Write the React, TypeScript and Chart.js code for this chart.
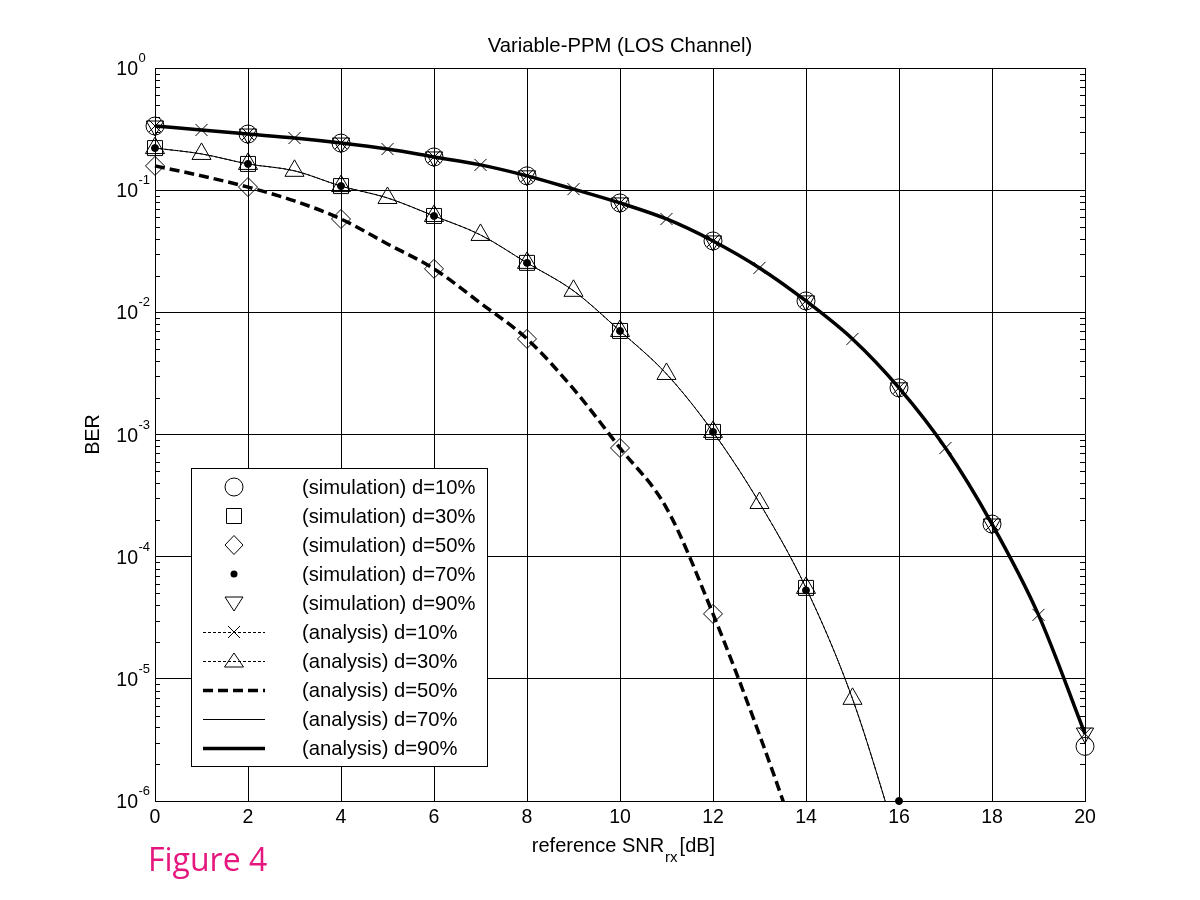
import React, { useEffect, useRef } from 'react';
import { Chart, registerables } from 'chart.js';

Chart.register(...registerables);

// ---------- data ----------
const snrAll = [0, 1, 2, 3, 4, 5, 6, 7, 8, 9, 10, 11, 12, 13, 14, 15, 16, 17, 18, 19, 20];
const snrEven = [0, 2, 4, 6, 8, 10, 12, 14, 16, 18, 20];
const snrTo16 = [0, 1, 2, 3, 4, 5, 6, 7, 8, 9, 10, 11, 12, 13, 14, 15, 16];
const snrTo14 = [0, 1, 2, 3, 4, 5, 6, 7, 8, 9, 10, 11, 12, 13, 14];

const simD10 = [0.335, 0.288, 0.243, 0.187, 0.131, 0.0786, 0.0384, 0.0124, 0.00241, 1.85e-4, 2.8e-6];
const simD30 = [0.221, 0.164, 0.108, 0.0615, 0.0254, 0.00704, 0.00105, 5.55e-5];
const simD50 = [0.158, 0.106, 0.0581, 0.0227, 0.00606, 7.76e-4, 3.4e-5];
const simD70 = [0.221, 0.164, 0.108, 0.0615, 0.0254, 0.00704, 0.00105, 5.3e-5, 1.0e-6];
const simD90 = [0.335, 0.288, 0.243, 0.187, 0.131, 0.0786, 0.0384, 0.0124, 0.00241, 1.85e-4, 3.6e-6];

const anaD10 = [0.335, 0.311, 0.288, 0.267, 0.243, 0.217, 0.187, 0.161, 0.131, 0.102, 0.0786, 0.0581, 0.0384, 0.0231, 0.0124, 0.00606, 0.00241, 7.76e-4, 1.85e-4, 3.34e-5, 3.55e-6];
const anaD30 = [0.221, 0.198, 0.164, 0.144, 0.108, 0.0863, 0.0615, 0.043, 0.0254, 0.015, 0.00704, 0.00313, 0.00105, 2.75e-4, 5.55e-5, 6.86e-6, 4.3e-7];
const anaD50 = [0.158, 0.131, 0.106, 0.0816, 0.0581, 0.0363, 0.0227, 0.0119, 0.00606, 0.00236, 7.76e-4, 2.5e-4, 3.4e-5, 3.48e-6, 2.9e-7];
const anaD70 = [0.221, 0.198, 0.164, 0.144, 0.108, 0.0863, 0.0615, 0.043, 0.0254, 0.015, 0.00704, 0.00313, 0.00105, 2.75e-4, 5.55e-5, 6.86e-6, 4.3e-7];
const anaD90 = [0.335, 0.311, 0.288, 0.267, 0.243, 0.217, 0.187, 0.161, 0.131, 0.102, 0.0786, 0.0581, 0.0384, 0.0231, 0.0124, 0.00606, 0.00241, 7.76e-4, 1.85e-4, 3.34e-5, 3.55e-6];

const berTickValues = [1e-6, 1e-5, 1e-4, 1e-3, 1e-2, 1e-1, 1];
const berTickExponents = ['-6', '-5', '-4', '-3', '-2', '-1', '0'];

const legendLabels = [
  '(simulation) d=10%',
  '(simulation) d=30%',
  '(simulation) d=50%',
  '(simulation) d=70%',
  '(simulation) d=90%',
  '(analysis) d=10%',
  '(analysis) d=30%',
  '(analysis) d=50%',
  '(analysis) d=70%',
  '(analysis) d=90%',
];

const titleText = 'Variable-PPM (LOS Channel)';
const yTitleText = 'BER';
const xTitleMain = 'reference SNR';
const xTitleSub = 'rx';
const xTitleTail = '[dB]';
const figureLabel = 'Figure 4';

const FONT = "'Liberation Sans', Arial, sans-serif";

const pts = (xs: number[], ys: number[]) => ys.map((y, i) => ({ x: xs[i], y }));

// ---------- legend marker helpers ----------
type MarkerKind = 'circle' | 'square' | 'diamond' | 'dot' | 'triDown' | 'cross' | 'triUp' | 'none';
type LineKind = 'none' | 'dotted' | 'dashed' | 'thin' | 'thick';
const legendMarkers: MarkerKind[] = ['circle', 'square', 'diamond', 'dot', 'triDown', 'cross', 'triUp', 'none', 'none', 'none'];
const legendLines: LineKind[] = ['none', 'none', 'none', 'none', 'none', 'dotted', 'dotted', 'dashed', 'thin', 'thick'];

function drawMarker(ctx: CanvasRenderingContext2D, kind: MarkerKind, cx: number, cy: number) {
  ctx.save();
  ctx.strokeStyle = '#000';
  ctx.fillStyle = '#000';
  ctx.lineWidth = 1;
  ctx.setLineDash([]);
  ctx.beginPath();
  switch (kind) {
    case 'circle':
      ctx.arc(cx, cy, 9, 0, Math.PI * 2);
      ctx.stroke();
      break;
    case 'square':
      ctx.rect(cx - 7.5, cy - 7.5, 15, 15);
      ctx.stroke();
      break;
    case 'diamond':
      ctx.moveTo(cx, cy - 9.5);
      ctx.lineTo(cx + 9, cy);
      ctx.lineTo(cx, cy + 9.5);
      ctx.lineTo(cx - 9, cy);
      ctx.closePath();
      ctx.stroke();
      break;
    case 'dot':
      ctx.arc(cx, cy, 3.5, 0, Math.PI * 2);
      ctx.fill();
      break;
    case 'triDown':
      ctx.moveTo(cx - 9, cy - 6);
      ctx.lineTo(cx + 9, cy - 6);
      ctx.lineTo(cx, cy + 8);
      ctx.closePath();
      ctx.stroke();
      break;
    case 'triUp':
      ctx.moveTo(cx - 9.5, cy + 6);
      ctx.lineTo(cx + 9.5, cy + 6);
      ctx.lineTo(cx, cy - 8);
      ctx.closePath();
      ctx.stroke();
      break;
    case 'cross':
      ctx.moveTo(cx - 6, cy - 6);
      ctx.lineTo(cx + 6, cy + 6);
      ctx.moveTo(cx + 6, cy - 6);
      ctx.lineTo(cx - 6, cy + 6);
      ctx.stroke();
      break;
    default:
      break;
  }
  ctx.restore();
}

function drawLegendLine(ctx: CanvasRenderingContext2D, kind: LineKind, x0: number, x1: number, y: number) {
  if (kind === 'none') return;
  ctx.save();
  ctx.strokeStyle = '#000';
  ctx.beginPath();
  if (kind === 'dotted') { ctx.lineWidth = 1; ctx.setLineDash([3, 2]); }
  if (kind === 'dashed') { ctx.lineWidth = 3.5; ctx.setLineDash([10, 5]); }
  if (kind === 'thin') { ctx.lineWidth = 1; }
  if (kind === 'thick') { ctx.lineWidth = 3.5; }
  ctx.moveTo(x0, y);
  ctx.lineTo(x1, y);
  ctx.stroke();
  ctx.restore();
}

const decorPlugin = {
  id: 'decor',
  afterDraw(chart: any) {
    const ctx: CanvasRenderingContext2D = chart.ctx;
    const a = chart.chartArea;
    const xs = chart.scales.x;
    const ys = chart.scales.y;
    ctx.save();

    // minor log ticks on left and right edges
    ctx.strokeStyle = '#000';
    ctx.lineWidth = 1;
    ctx.beginPath();
    for (let d = -6; d < 0; d++) {
      for (let k = 2; k <= 9; k++) {
        const py = Math.round(ys.getPixelForValue(k * Math.pow(10, d))) + 0.5;
        ctx.moveTo(a.left, py); ctx.lineTo(a.left + 5, py);
        ctx.moveTo(a.right - 5, py); ctx.lineTo(a.right, py);
      }
    }
    ctx.stroke();

    ctx.fillStyle = '#000';
    // y tick labels 10^n
    berTickValues.forEach((v, i) => {
      const py = ys.getPixelForValue(v);
      ctx.font = `19.5px ${FONT}`;
      ctx.textAlign = 'right';
      ctx.textBaseline = 'alphabetic';
      ctx.fillText('10', 138, py + 7);
      ctx.font = `13px ${FONT}`;
      ctx.textAlign = 'left';
      ctx.fillText(berTickExponents[i], 138.5, py - 6);
    });

    // x tick labels
    ctx.font = `19.5px ${FONT}`;
    ctx.textAlign = 'center';
    xs.ticks.forEach((t: any) => {
      ctx.fillText(String(t.value), xs.getPixelForValue(t.value), 823);
    });

    // x title with subscript
    const mainFont = `20px ${FONT}`;
    const subFont = `15px ${FONT}`;
    ctx.font = mainFont;
    const w1 = ctx.measureText(xTitleMain).width;
    const w3 = ctx.measureText(xTitleTail).width;
    ctx.font = subFont;
    const w2 = ctx.measureText(xTitleSub).width + 2;
    const cx = (a.left + a.right) / 2;
    let tx = cx - (w1 + w2 + w3) / 2 + 3;
    ctx.textAlign = 'left';
    ctx.font = mainFont;
    ctx.fillText(xTitleMain, tx, 852);
    tx += w1 + 1;
    ctx.font = subFont;
    ctx.fillText(xTitleSub, tx, 862);
    tx += w2;
    ctx.font = mainFont;
    ctx.fillText(xTitleTail, tx, 852);

    // y title
    ctx.save();
    ctx.translate(99, (a.top + a.bottom) / 2);
    ctx.rotate(-Math.PI / 2);
    ctx.textAlign = 'center';
    ctx.font = `19.5px ${FONT}`;
    ctx.fillText(yTitleText, 0, 0);
    ctx.restore();

    // title
    ctx.font = `20.3px ${FONT}`;
    ctx.textAlign = 'center';
    ctx.fillText(titleText, 620, 52);

    // figure label
    ctx.font = "32px 'Open Sans', 'Noto Sans', sans-serif";
    ctx.textAlign = 'left';
    ctx.fillStyle = '#E5177E';
    ctx.fillText(figureLabel, 148, 871);

    // legend box
    const L = 191, T = 468, R = 487, B = 766;
    ctx.fillStyle = '#fff';
    ctx.fillRect(L, T, R - L, B - T);
    ctx.strokeStyle = '#000';
    ctx.lineWidth = 1;
    ctx.strokeRect(L + 0.5, T + 0.5, R - L, B - T);
    ctx.fillStyle = '#000';
    ctx.font = `20.2px ${FONT}`;
    ctx.textAlign = 'left';
    ctx.textBaseline = 'middle';
    legendLabels.forEach((lab, i) => {
      const ry = 487 + 29 * i;
      drawLegendLine(ctx, legendLines[i], 203, 265, ry + 0.5);
      drawMarker(ctx, legendMarkers[i], 234, ry);
      ctx.fillStyle = '#000';
      ctx.fillText(lab, 302, ry + 1);
    });

    ctx.restore();
  },
};

export default function App() {
  const canvasRef = useRef<HTMLCanvasElement | null>(null);

  useEffect(() => {
    if (!canvasRef.current) return;
    const clear = 'rgba(0,0,0,0)';
    const edgeClip = { left: 14, right: 14, top: 14, bottom: 1 };
    const markerDefaults = {
      showLine: false,
      borderColor: '#000',
      backgroundColor: clear,
      pointBorderColor: '#000',
      pointBackgroundColor: clear,
      pointBorderWidth: 1,
      clip: false as any,
    };
    const smooth = { cubicInterpolationMode: 'monotone' as const, fill: false };
    const chart = new Chart(canvasRef.current, {
      type: 'line',
      data: {
        datasets: [
          { ...markerDefaults, label: legendLabels[0], data: pts(snrEven, simD10), pointStyle: 'circle', pointRadius: 9 },
          { ...markerDefaults, label: legendLabels[1], data: pts(snrEven, simD30), pointStyle: 'rect', pointRadius: 10.6 },
          { ...markerDefaults, label: legendLabels[2], data: pts(snrEven, simD50), pointStyle: 'rectRot', pointRadius: 9.5 },
          { ...markerDefaults, label: legendLabels[3], data: pts(snrEven, simD70), pointStyle: 'circle', pointRadius: 3.5, pointBackgroundColor: '#000' },
          { ...markerDefaults, label: legendLabels[4], data: pts(snrEven, simD90), pointStyle: 'triangle', pointRotation: 180, pointRadius: 10 },
          {
            ...smooth,
            label: legendLabels[5], data: pts(snrAll, anaD10), borderColor: '#000', borderWidth: 1, borderDash: [3, 2],
            pointStyle: 'crossRot', pointRadius: 8.5, pointBorderColor: '#000', pointBorderWidth: 1, pointBackgroundColor: clear,
            clip: edgeClip as any,
          },
          {
            ...smooth,
            label: legendLabels[6], data: pts(snrTo16, anaD30), borderColor: '#000', borderWidth: 1, borderDash: [3, 2],
            pointStyle: 'triangle', pointRadius: 11, pointBorderColor: '#000', pointBorderWidth: 1, pointBackgroundColor: clear,
            clip: edgeClip as any,
          },
          {
            ...smooth,
            label: legendLabels[7], data: pts(snrTo14, anaD50), borderColor: '#000', borderWidth: 3.5, borderDash: [10, 5],
            pointRadius: 0, clip: edgeClip as any,
          },
          {
            ...smooth,
            label: legendLabels[8], data: pts(snrTo16, anaD70), borderColor: '#000', borderWidth: 1,
            pointRadius: 0, clip: edgeClip as any,
          },
          {
            ...smooth,
            label: legendLabels[9], data: pts(snrAll, anaD90), borderColor: '#000', borderWidth: 3.5,
            pointRadius: 0, clip: edgeClip as any,
          },
        ],
      },
      options: {
        responsive: false,
        animation: false,
        devicePixelRatio: 1,
        layout: { padding: { left: 155, right: 115, top: 68, bottom: 99 } },
        plugins: { legend: { display: false }, tooltip: { enabled: false }, title: { display: false } },
        events: [],
        scales: {
          x: {
            type: 'linear',
            min: 0,
            max: 20,
            ticks: { display: false, stepSize: 2 },
            grid: { color: '#000', lineWidth: 1, drawTicks: false },
            border: { display: true, color: '#000', width: 1 },
          },
          y: {
            type: 'logarithmic',
            min: 1e-6,
            max: 1,
            ticks: { display: false },
            afterBuildTicks: (scale: any) => {
              scale.ticks = berTickValues.map((v) => ({ value: v }));
            },
            grid: { color: '#000', lineWidth: 1, drawTicks: false },
            border: { display: true, color: '#000', width: 1 },
          },
        },
      },
      plugins: [decorPlugin],
    });
    return () => chart.destroy();
  }, []);

  return (
    <div style={{ position: 'fixed', left: 0, top: 0, width: 1200, height: 900, background: '#fff' }}>
      <canvas ref={canvasRef} width={1200} height={900} style={{ display: 'block' }} />
    </div>
  );
}
